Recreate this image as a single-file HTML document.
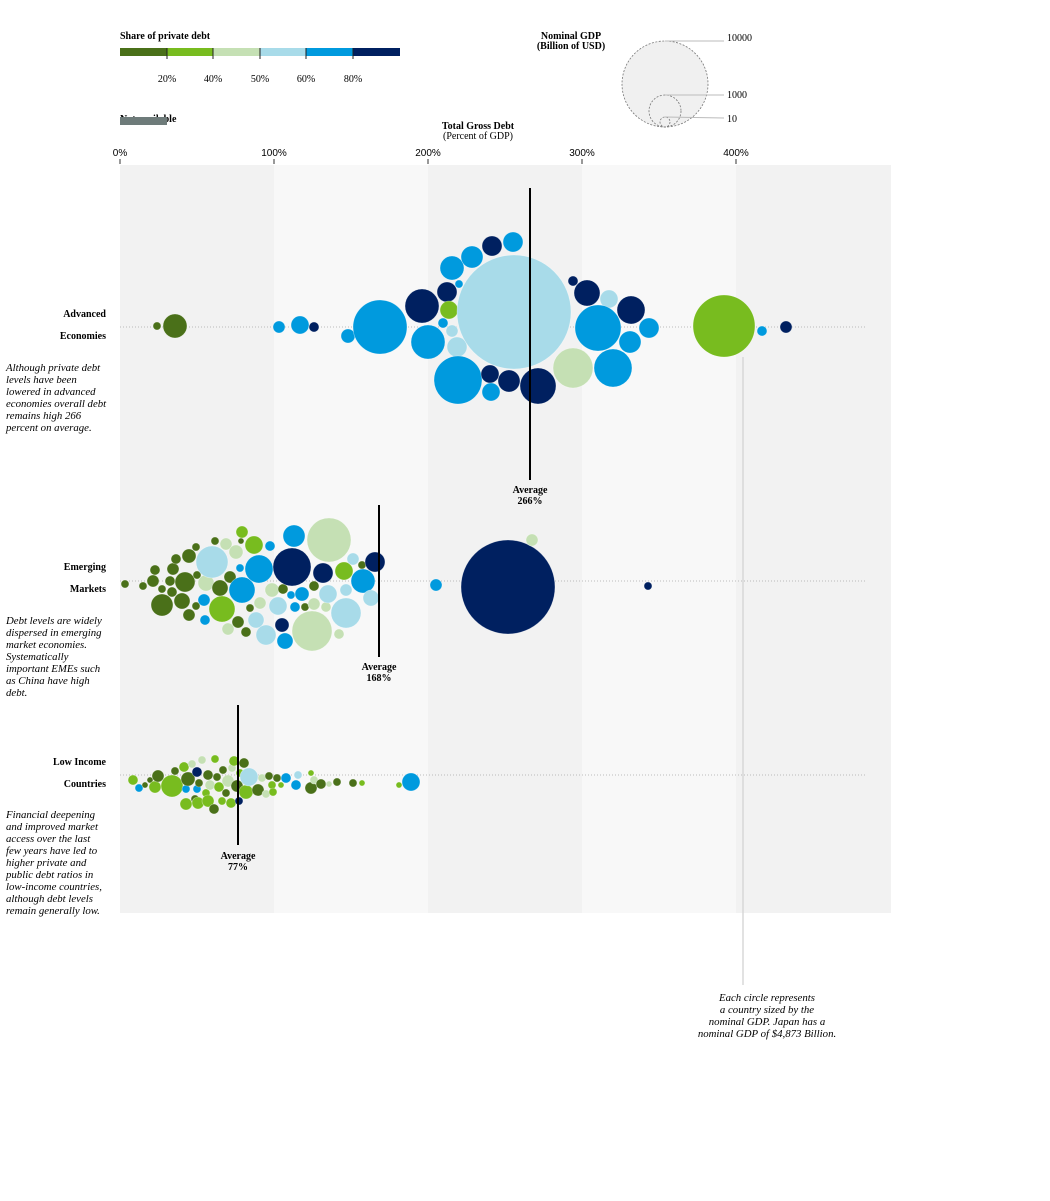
<!DOCTYPE html>
<html><head><meta charset="utf-8"><style>
body{margin:0;background:#fff;width:1050px;height:1201px;overflow:hidden}
svg{display:block;font-family:"Liberation Serif",serif}
.a{fill:#4a7019}.b{fill:#78bc1f}.c{fill:#c5e0b4}.d{fill:#a8dbe9}.e{fill:#009ade}.f{fill:#002060}
circle{stroke:#ffffff;stroke-opacity:.5;stroke-width:.6}
.bt{font-weight:bold;font-size:10px}
.it{font-style:italic;font-size:10.8px}
.ax{font-family:"Liberation Sans",sans-serif;font-size:10px}
</style></head><body>
<svg width="1050" height="1201" viewBox="0 0 1050 1201">
<rect x="120" y="165" width="154" height="748" fill="#f2f2f2"/>
<rect x="274" y="165" width="154" height="748" fill="#f8f8f8"/>
<rect x="428" y="165" width="154" height="748" fill="#f2f2f2"/>
<rect x="582" y="165" width="154" height="748" fill="#f8f8f8"/>
<rect x="736" y="165" width="155" height="748" fill="#f2f2f2"/>
<text x="120" y="39" class="bt">Share of private debt</text>
<rect x="120" y="48" width="47" height="8" fill="#4a7019"/>
<rect x="167" y="48" width="46" height="8" fill="#78bc1f"/>
<rect x="213" y="48" width="47" height="8" fill="#c5e0b4"/>
<rect x="260" y="48" width="46" height="8" fill="#a8dbe9"/>
<rect x="306" y="48" width="47" height="8" fill="#009ade"/>
<rect x="353" y="48" width="47" height="8" fill="#002060"/>
<g stroke="#222" stroke-width="1"><line x1="167" y1="48" x2="167" y2="59"/><line x1="213" y1="48" x2="213" y2="59"/><line x1="260" y1="48" x2="260" y2="59"/><line x1="306" y1="48" x2="306" y2="59"/><line x1="353" y1="48" x2="353" y2="59"/></g>
<g font-size="10" text-anchor="middle"><text x="167" y="82">20%</text><text x="213" y="82">40%</text><text x="260" y="82">50%</text><text x="306" y="82">60%</text><text x="353" y="82">80%</text></g>
<text x="120" y="122" class="bt">Not available</text>
<rect x="120" y="117" width="47" height="8" fill="#6e7b7a"/>
<text x="571" y="39" class="bt" text-anchor="middle">Nominal GDP</text>
<text x="571" y="49" class="bt" text-anchor="middle">(Billion of USD)</text>
<circle cx="665" cy="84" r="43" style="fill:#f0f0f0;stroke:#777;stroke-opacity:1;stroke-width:.8;stroke-dasharray:2,1.5"/>
<circle cx="665" cy="111" r="16" style="fill:none;stroke:#777;stroke-opacity:1;stroke-width:.8;stroke-dasharray:2,1.5"/>
<circle cx="665" cy="122" r="5" style="fill:none;stroke:#777;stroke-opacity:1;stroke-width:.8;stroke-dasharray:2,1.5"/>
<g stroke="#bbb"><line x1="665" y1="41" x2="724" y2="41"/><line x1="665" y1="95" x2="724" y2="95"/><line x1="665" y1="117" x2="724" y2="118"/></g>
<g font-size="10"><text x="727" y="41">10000</text><text x="727" y="98">1000</text><text x="727" y="122">10</text></g>
<text x="478" y="129" class="bt" text-anchor="middle">Total Gross Debt</text>
<text x="478" y="139" font-size="10" text-anchor="middle">(Percent of GDP)</text>
<g class="ax" text-anchor="middle"><text x="120" y="156">0%</text><text x="274" y="156">100%</text><text x="428" y="156">200%</text><text x="582" y="156">300%</text><text x="736" y="156">400%</text></g>
<g stroke="#333"><line x1="120" y1="159" x2="120" y2="164"/><line x1="274" y1="159" x2="274" y2="164"/><line x1="428" y1="159" x2="428" y2="164"/><line x1="582" y1="159" x2="582" y2="164"/><line x1="736" y1="159" x2="736" y2="164"/></g>
<g stroke="#bbb" stroke-dasharray="1,2"><line x1="120" y1="327" x2="866" y2="327"/><line x1="120" y1="581" x2="866" y2="581"/><line x1="120" y1="775" x2="866" y2="775"/></g>
<line x1="743" y1="357" x2="743" y2="985" stroke="#d8d8d8" stroke-width="1.5"/>
<g class="it" text-anchor="middle"><text x="767" y="1001">Each circle represents</text><text x="767" y="1013">a country sized by the</text><text x="767" y="1025">nominal GDP. Japan has a</text><text x="767" y="1037">nominal GDP of $4,873 Billion.</text></g>
<circle class="a" cx="157" cy="326" r="4"/><circle class="a" cx="175" cy="326" r="12"/>
<circle class="e" cx="279" cy="327" r="6"/><circle class="e" cx="300" cy="325" r="9"/><circle class="f" cx="314" cy="327" r="5"/>
<circle class="e" cx="348" cy="336" r="7"/><circle class="e" cx="380" cy="327" r="27"/>
<circle class="f" cx="422" cy="306" r="17"/><circle class="e" cx="428" cy="342" r="17"/>
<circle class="f" cx="447" cy="292" r="10"/><circle class="b" cx="449" cy="310" r="9"/><circle class="e" cx="459" cy="284" r="4"/><circle class="e" cx="443" cy="323" r="5"/><circle class="d" cx="452" cy="331" r="6"/><circle class="d" cx="457" cy="347" r="10"/>
<circle class="e" cx="452" cy="268" r="12"/><circle class="e" cx="472" cy="257" r="11"/><circle class="f" cx="492" cy="246" r="10"/><circle class="e" cx="513" cy="242" r="10"/>
<circle class="d" cx="514" cy="312" r="57"/>
<circle class="e" cx="458" cy="380" r="24"/><circle class="f" cx="490" cy="374" r="9"/><circle class="e" cx="491" cy="392" r="9"/><circle class="f" cx="509" cy="381" r="11"/><circle class="f" cx="538" cy="386" r="18"/>
<circle class="f" cx="573" cy="281" r="5"/><circle class="f" cx="587" cy="293" r="13"/><circle class="d" cx="609" cy="299" r="9"/><circle class="e" cx="598" cy="328" r="23"/><circle class="f" cx="631" cy="310" r="14"/><circle class="e" cx="649" cy="328" r="10"/><circle class="e" cx="630" cy="342" r="11"/>
<circle class="c" cx="573" cy="368" r="20"/><circle class="e" cx="613" cy="368" r="19"/>
<circle class="b" cx="724" cy="326" r="31"/><circle class="e" cx="762" cy="331" r="5"/><circle class="f" cx="786" cy="327" r="6"/>
<line x1="530" y1="188" x2="530" y2="480" stroke="#000" stroke-width="2"/>
<text x="530" y="493" class="bt" text-anchor="middle">Average</text><text x="530" y="504" class="bt" text-anchor="middle">266%</text>
<circle class="a" cx="125" cy="584" r="4"/><circle class="a" cx="143" cy="586" r="4"/><circle class="a" cx="153" cy="581" r="6"/><circle class="a" cx="155" cy="570" r="5"/><circle class="a" cx="162" cy="589" r="4"/><circle class="a" cx="162" cy="605" r="11"/><circle class="a" cx="170" cy="581" r="5"/><circle class="a" cx="173" cy="569" r="6"/><circle class="a" cx="176" cy="559" r="5"/><circle class="a" cx="172" cy="592" r="5"/><circle class="a" cx="182" cy="601" r="8"/><circle class="a" cx="185" cy="582" r="10"/><circle class="a" cx="189" cy="556" r="7"/><circle class="a" cx="189" cy="615" r="6"/><circle class="a" cx="196" cy="547" r="4"/><circle class="a" cx="197" cy="575" r="4"/><circle class="a" cx="196" cy="606" r="4"/><circle class="e" cx="204" cy="600" r="6"/><circle class="e" cx="205" cy="620" r="5"/><circle class="c" cx="206" cy="583" r="8"/><circle class="d" cx="212" cy="562" r="16"/><circle class="a" cx="215" cy="541" r="4"/><circle class="a" cx="220" cy="588" r="8"/><circle class="b" cx="222" cy="609" r="13"/><circle class="c" cx="226" cy="544" r="6"/><circle class="c" cx="228" cy="629" r="6"/><circle class="a" cx="230" cy="577" r="6"/><circle class="c" cx="236" cy="552" r="7"/><circle class="a" cx="238" cy="622" r="6"/><circle class="e" cx="240" cy="568" r="4"/><circle class="a" cx="241" cy="541" r="3"/><circle class="b" cx="242" cy="532" r="6"/><circle class="e" cx="242" cy="590" r="13"/><circle class="a" cx="246" cy="632" r="5"/><circle class="a" cx="250" cy="608" r="4"/><circle class="b" cx="254" cy="545" r="9"/><circle class="d" cx="256" cy="620" r="8"/><circle class="e" cx="259" cy="569" r="14"/><circle class="c" cx="260" cy="603" r="6"/><circle class="d" cx="266" cy="635" r="10"/><circle class="e" cx="270" cy="546" r="5"/><circle class="c" cx="272" cy="590" r="7"/><circle class="d" cx="278" cy="606" r="9"/><circle class="f" cx="282" cy="625" r="7"/><circle class="a" cx="283" cy="589" r="5"/><circle class="e" cx="285" cy="641" r="8"/><circle class="e" cx="291" cy="595" r="4"/><circle class="f" cx="292" cy="567" r="19"/><circle class="e" cx="294" cy="536" r="11"/><circle class="e" cx="302" cy="594" r="7"/><circle class="e" cx="295" cy="607" r="5"/><circle class="a" cx="305" cy="607" r="4"/><circle class="c" cx="312" cy="631" r="20"/><circle class="a" cx="314" cy="586" r="5"/><circle class="c" cx="314" cy="604" r="6"/><circle class="f" cx="323" cy="573" r="10"/><circle class="c" cx="326" cy="607" r="5"/><circle class="c" cx="329" cy="540" r="22"/><circle class="d" cx="328" cy="594" r="9"/><circle class="c" cx="339" cy="634" r="5"/><circle class="b" cx="344" cy="571" r="9"/><circle class="d" cx="346" cy="613" r="15"/><circle class="d" cx="346" cy="590" r="6"/><circle class="d" cx="353" cy="559" r="6"/><circle class="a" cx="362" cy="565" r="4"/><circle class="e" cx="363" cy="581" r="12"/><circle class="d" cx="371" cy="598" r="8"/><circle class="f" cx="375" cy="562" r="10"/>
<circle class="e" cx="436" cy="585" r="6"/><circle class="f" cx="508" cy="587" r="47"/><circle class="c" cx="532" cy="540" r="6"/><circle class="f" cx="648" cy="586" r="4"/>
<line x1="379" y1="505" x2="379" y2="657" stroke="#000" stroke-width="2"/>
<text x="379" y="670" class="bt" text-anchor="middle">Average</text><text x="379" y="681" class="bt" text-anchor="middle">168%</text>
<circle class="b" cx="133" cy="780" r="5"/><circle class="e" cx="139" cy="788" r="4"/><circle class="a" cx="145" cy="785" r="3"/><circle class="a" cx="150" cy="780" r="3"/><circle class="b" cx="155" cy="787" r="6"/><circle class="a" cx="158" cy="776" r="6"/><circle class="b" cx="172" cy="786" r="11"/><circle class="a" cx="175" cy="771" r="4"/><circle class="b" cx="184" cy="767" r="5"/><circle class="b" cx="186" cy="804" r="6"/><circle class="e" cx="186" cy="789" r="4"/><circle class="a" cx="188" cy="779" r="7"/><circle class="c" cx="192" cy="764" r="4"/><circle class="a" cx="195" cy="799" r="4"/><circle class="f" cx="197" cy="772" r="5"/><circle class="e" cx="197" cy="789" r="4"/><circle class="b" cx="198" cy="803" r="6"/><circle class="a" cx="199" cy="783" r="4"/><circle class="c" cx="202" cy="760" r="4"/><circle class="b" cx="206" cy="793" r="4"/><circle class="b" cx="208" cy="801" r="6"/><circle class="a" cx="208" cy="775" r="5"/><circle class="c" cx="210" cy="785" r="5"/><circle class="a" cx="214" cy="809" r="5"/><circle class="b" cx="215" cy="759" r="4"/><circle class="a" cx="217" cy="777" r="4"/><circle class="b" cx="219" cy="787" r="5"/><circle class="b" cx="222" cy="801" r="4"/><circle class="a" cx="223" cy="770" r="4"/><circle class="a" cx="226" cy="793" r="4"/><circle class="c" cx="228" cy="781" r="6"/><circle class="b" cx="231" cy="803" r="5"/><circle class="c" cx="232" cy="768" r="4"/><circle class="b" cx="234" cy="761" r="5"/><circle class="a" cx="237" cy="786" r="6"/><circle class="f" cx="239" cy="801" r="4"/><circle class="b" cx="240" cy="773" r="4"/><circle class="a" cx="244" cy="763" r="5"/><circle class="b" cx="246" cy="792" r="7"/><circle class="d" cx="249" cy="777" r="9"/><circle class="a" cx="258" cy="790" r="6"/><circle class="c" cx="262" cy="778" r="4"/><circle class="c" cx="266" cy="794" r="4"/><circle class="a" cx="269" cy="776" r="4"/><circle class="b" cx="272" cy="785" r="4"/><circle class="b" cx="273" cy="792" r="4"/><circle class="a" cx="277" cy="778" r="4"/><circle class="b" cx="281" cy="785" r="3"/><circle class="e" cx="286" cy="778" r="5"/><circle class="e" cx="296" cy="785" r="5"/><circle class="d" cx="298" cy="775" r="4"/><circle class="a" cx="311" cy="788" r="6"/><circle class="b" cx="311" cy="773" r="3"/><circle class="c" cx="314" cy="780" r="4"/><circle class="a" cx="321" cy="784" r="5"/><circle class="c" cx="329" cy="784" r="3"/><circle class="a" cx="337" cy="782" r="4"/><circle class="a" cx="353" cy="783" r="4"/><circle class="b" cx="362" cy="783" r="3"/><circle class="b" cx="399" cy="785" r="3"/><circle class="e" cx="411" cy="782" r="9"/>
<line x1="238" y1="705" x2="238" y2="845" stroke="#000" stroke-width="2"/>
<text x="238" y="859" class="bt" text-anchor="middle">Average</text><text x="238" y="870" class="bt" text-anchor="middle">77%</text>
<g class="bt" text-anchor="end"><text x="106" y="317">Advanced</text><text x="106" y="339">Economies</text>
<text x="106" y="570">Emerging</text><text x="106" y="592">Markets</text>
<text x="106" y="765">Low Income</text><text x="106" y="787">Countries</text></g>
<g class="it"><text x="6" y="371">Although private debt</text><text x="6" y="383">levels have been</text><text x="6" y="395">lowered in advanced</text><text x="6" y="407">economies overall debt</text><text x="6" y="419">remains high 266</text><text x="6" y="431">percent on average.</text>
<text x="6" y="624">Debt levels are widely</text><text x="6" y="636">dispersed in emerging</text><text x="6" y="648">market economies.</text><text x="6" y="660">Systematically</text><text x="6" y="672">important EMEs such</text><text x="6" y="684">as China have high</text><text x="6" y="696">debt.</text>
<text x="6" y="818">Financial deepening</text><text x="6" y="830">and improved market</text><text x="6" y="842">access over the last</text><text x="6" y="854">few years have led to</text><text x="6" y="866">higher private and</text><text x="6" y="878">public debt ratios in</text><text x="6" y="890">low-income countries,</text><text x="6" y="902">although debt levels</text><text x="6" y="914">remain generally low.</text></g>
</svg>
</body></html>
